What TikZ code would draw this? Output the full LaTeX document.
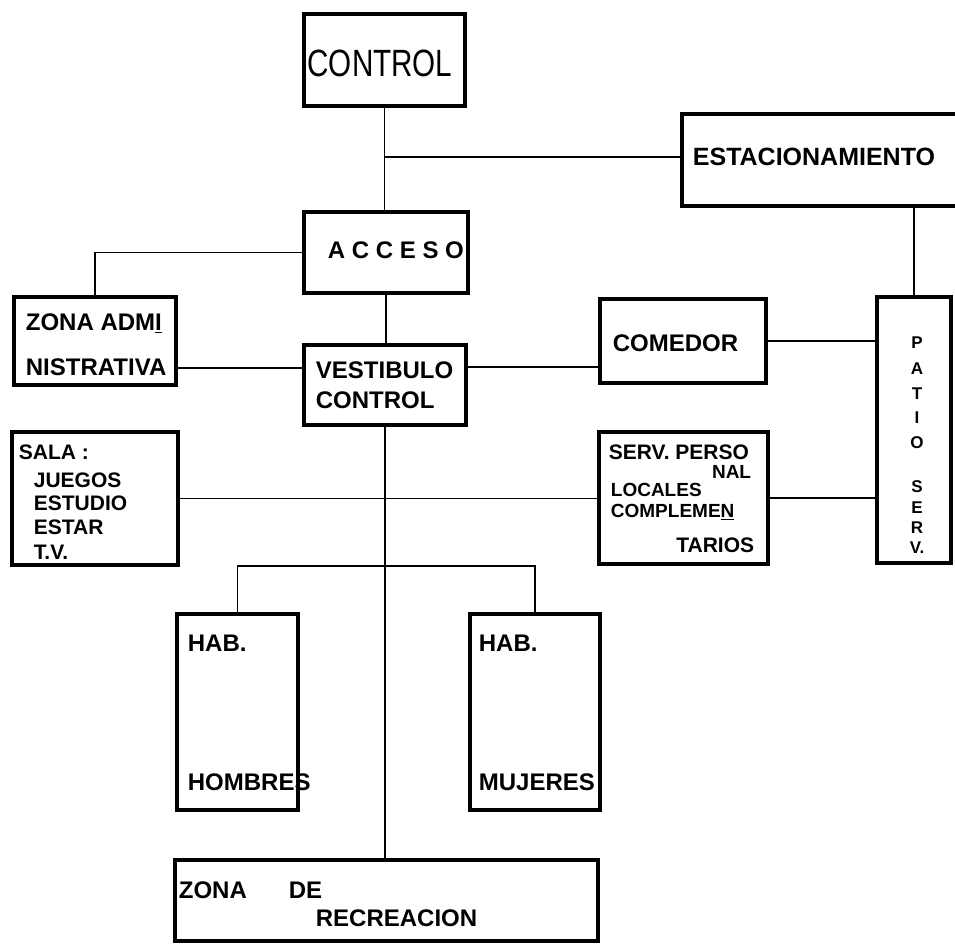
\documentclass[tikz,border=0pt]{standalone}
\usepackage{fontspec}
\setmainfont{Liberation Sans}
\newfontfamily\narrowfont{Liberation Sans}[FakeStretch=0.78]
\begin{document}
\begin{tikzpicture}[x=1pt, y=-1pt, line width=1.8pt,
  box/.style={draw, rectangle, line width=4pt, inner sep=0pt},
  lab/.style={inner sep=0pt, anchor=west, font=\bfseries\fontsize{24}{28}\selectfont},
  small lab/.style={lab, font=\bfseries\fontsize{21}{24}\selectfont},
  tiny lab/.style={lab, font=\bfseries\fontsize{19}{22}\selectfont}]
\useasboundingbox (0,0) rectangle (955,946);
\clip (0,0) rectangle (955,946);
\begin{scope}
\node[box, minimum width=161pt, minimum height=92pt] (control) at (384.5,60) {};
\node[box, minimum width=318pt, minimum height=92pt] (estac) at (841,160) {};
\node[box, minimum width=164pt, minimum height=81pt] (acceso) at (386,252.5) {};
\node[box, minimum width=162pt, minimum height=88pt] (zona) at (95,341) {};
\node[box, minimum width=162pt, minimum height=80pt] (vest) at (385,385) {};
\node[box, minimum width=166pt, minimum height=84pt] (comedor) at (683,341) {};
\node[box, minimum width=74pt, minimum height=266pt] (patio) at (914,430) {};
\node[box, minimum width=166pt, minimum height=133pt] (sala) at (95,498.5) {};
\node[box, minimum width=169pt, minimum height=132pt] (serv) at (683.5,498) {};
\node[box, minimum width=121pt, minimum height=196pt] (habh) at (237.5,712) {};
\node[box, minimum width=130pt, minimum height=196pt] (habm) at (535,712) {};
\node[box, minimum width=423pt, minimum height=81pt] (recre) at (386.5,900.5) {};
\end{scope}
\begin{scope}
\node[inner sep=0pt, font=\narrowfont\fontsize{38}{40}\selectfont] (controlt) at (380,63) {CONTROL};
\node[lab, font=\bfseries\fontsize{25}{28}\selectfont] (estact) at (692,157) {ESTACIONAMIENTO};
\node[lab] (accesot) at (327,250) {A C C E S O};
\node[lab] (zonaa) at (25,323) {ZONA ADM\underline{I}};
\node[lab] (zonab) at (25,367) {NISTRATIVA};
\node[lab] (vesta) at (315,370) {VESTIBULO};
\node[lab] (vestb) at (315,400) {CONTROL};
\node[lab] (comedort) at (612,343) {COMEDOR};
\node[small lab] (salat) at (18,452) {SALA :};
\node[small lab] (salaa) at (33,480) {JUEGOS};
\node[small lab] (salab) at (33,503) {ESTUDIO};
\node[small lab] (salac) at (33,527) {ESTAR};
\node[small lab] (salad) at (33,552) {T.V.};
\node[small lab] (serva) at (608,452) {SERV. PERSO};
\node[tiny lab, anchor=east] (servb) at (752,472) {NAL};
\node[tiny lab] (servc) at (610,490) {LOCALES};
\node[tiny lab] (servd) at (610,512) {COMPLEME\underline{N}};
\node[small lab, anchor=east] (serve) at (755,545) {TARIOS};
\foreach \ch/\yy [count=\k] in {P/343, A/369, T/394, I/418, O/443, S/487, E/508, R/528, V./548}
  \node[tiny lab, font=\bfseries\fontsize{17}{20}\selectfont, anchor=center] (patio\k) at (917,\yy) {\ch};
\node[lab] (habha) at (187,643) {HAB.};
\node[lab] (habhb) at (187,782) {HOMBRES};
\node[lab] (habma) at (478,643) {HAB.};
\node[lab] (habmb) at (478,782) {MUJERES};
\node[lab] (recrea) at (178,890) {ZONA\hspace{42pt}DE};
\node[lab] (recreb) at (315,918) {RECREACION};
\end{scope}
\begin{scope}
\draw (control.south) -- (control.south |- acceso.north);
\draw (control.south |- 0,157) -- (estac.west |- 0,157);
\draw (acceso.west) -| (zona.north);
\draw (acceso.south) -- (acceso.south |- vest.north);
\draw (zona.east |- 0,368) -- (vest.west |- 0,368);
\draw (vest.east |- 0,367) -- (comedor.west |- 0,367);
\draw (comedor.east) -- (patio.west |- comedor.east);
\draw (patio.north |- estac.south) -- (patio.north);
\draw (sala.east) -- (serv.west |- sala.east);
\draw (serv.east) -- (patio.west |- serv.east);
\draw (vest.south) -- (vest.south |- recre.north);
\draw (habh.north) |- (habm.north |- 0,566) -- (habm.north);
\end{scope}
\end{tikzpicture}
\end{document}
